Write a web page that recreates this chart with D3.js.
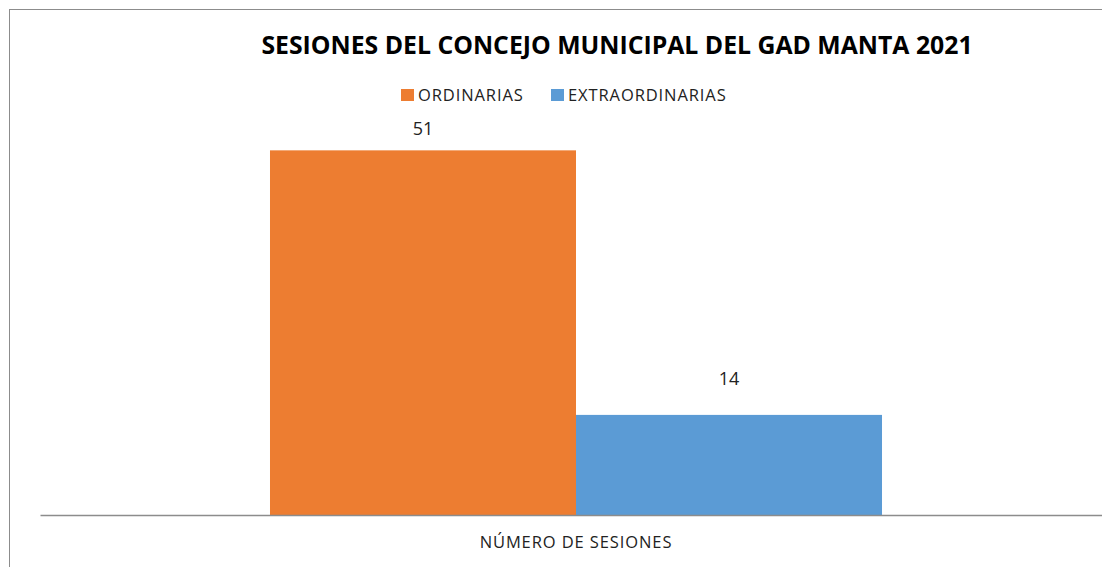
<!DOCTYPE html>
<html>
<head>
<meta charset="utf-8">
<script src="https://cdn.jsdelivr.net/npm/d3@7"></script>
<style>
  body { margin: 0; background: #fff; }
  text { font-family: "Open Sans", "DejaVu Sans", sans-serif; }
</style>
</head>
<body>
<div id="chart"></div>
<script>
// data
var categories = ["NÚMERO DE SESIONES"];
var seriesNames = ["ORDINARIAS", "EXTRAORDINARIAS"];
var seriesValues = [51, 14];
var seriesColors = ["#ED7D31", "#5B9BD5"];

var svgWidth = 1102;
var svgHeight = 567;

var margin = { top: 86, right: -10, bottom: 52, left: 40 };
var chartWidth = svgWidth - margin.left - margin.right;
var chartHeight = svgHeight - margin.top - margin.bottom;

var svg = d3.select("#chart")
  .append("svg")
  .attr("width", svgWidth)
  .attr("height", svgHeight);

// outer frame
svg.append("rect")
  .attr("x", 9.5)
  .attr("y", 9.5)
  .attr("width", 1200)
  .attr("height", 700)
  .attr("fill", "none")
  .attr("stroke", "#8c8c8c")
  .attr("stroke-width", 1);

// title
svg.append("text")
  .attr("x", 617)
  .attr("y", 54)
  .attr("text-anchor", "middle")
  .attr("font-size", "24.8px")
  .attr("font-weight", "bold")
  .attr("fill", "#000")
  .text("SESIONES DEL CONCEJO MUNICIPAL DEL GAD MANTA 2021");

var chartGroup = svg.append("g")
  .attr("transform", `translate(${margin.left}, ${margin.top})`);

var xScale = d3.scaleBand()
  .domain(categories)
  .range([0, chartWidth])
  .paddingInner(0)
  .paddingOuter(0.3758);

var xSub = d3.scaleBand()
  .domain(seriesNames)
  .range([0, xScale.bandwidth()]);

var yScale = d3.scaleLinear()
  .domain([0, 60])
  .range([chartHeight, 0]);

var bars = seriesNames.map(function(name, i) {
  return { cat: categories[0], name: name, value: seriesValues[i], color: seriesColors[i] };
});

chartGroup.selectAll("rect.bar")
  .data(bars)
  .enter()
  .append("rect")
  .attr("class", "bar")
  .attr("x", d => xScale(d.cat) + xSub(d.name))
  .attr("y", d => yScale(d.value))
  .attr("width", xSub.bandwidth())
  .attr("height", d => chartHeight - yScale(d.value))
  .attr("fill", d => d.color);

// value labels (gap above each bar differs in the original)
var labelGap = [15, 30];
chartGroup.selectAll("text.val")
  .data(bars)
  .enter()
  .append("text")
  .attr("class", "val")
  .attr("x", d => xScale(d.cat) + xSub(d.name) + xSub.bandwidth() / 2)
  .attr("y", (d, i) => yScale(d.value) - labelGap[i])
  .attr("text-anchor", "middle")
  .attr("font-size", "18px")
  .attr("fill", "#222")
  .text(d => d.value);

// x axis
var xAxis = d3.axisBottom(xScale).tickSize(0).tickPadding(21);
var xg = chartGroup.append("g")
  .attr("transform", `translate(0, ${chartHeight})`)
  .call(xAxis);
xg.select(".domain").attr("stroke", "#8c8c8c").attr("stroke-width", 1.5);
xg.selectAll("text")
  .attr("font-size", "16.5px")
  .attr("letter-spacing", "0.9px")
  .attr("fill", "#222")
  .style("font-family", "\"Open Sans\", sans-serif");

// legend
var legendX = [401, 551];
var legend = svg.selectAll("g.legend")
  .data(seriesNames)
  .enter()
  .append("g")
  .attr("class", "legend")
  .attr("transform", (d, i) => `translate(${legendX[i]}, 89)`);
legend.append("rect")
  .attr("width", 13)
  .attr("height", 12)
  .attr("fill", (d, i) => seriesColors[i]);
legend.append("text")
  .attr("x", 17)
  .attr("y", 12)
  .attr("font-size", "16.5px")
  .attr("letter-spacing", "0.9px")
  .attr("fill", "#222")
  .text(d => d);
</script>
</body>
</html>
